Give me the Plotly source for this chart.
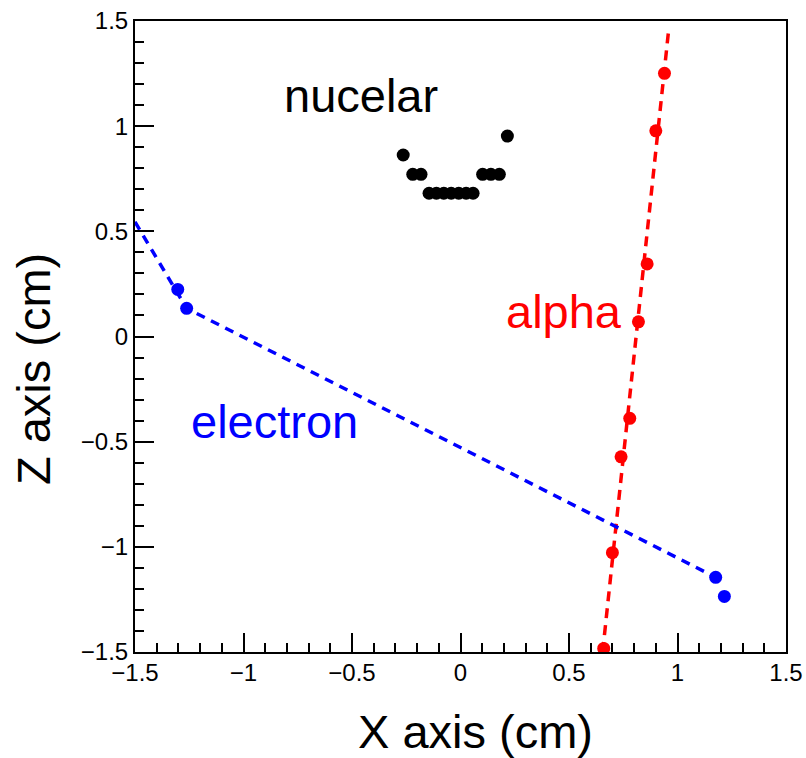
import plotly.graph_objects as go

# Hit positions (cm) for each track
alpha_x = [0.66, 0.70, 0.74, 0.78, 0.82, 0.86, 0.90, 0.94]
alpha_z = [-1.483, -1.028, -0.572, -0.389, 0.070, 0.345, 0.978, 1.251]

# Straight-line track drawn through the alpha hits
alpha_line_x = [0.655, 0.960]
alpha_line_z = [-1.500, 1.465]

electron_x = [-1.303, -1.262, 1.176, 1.216]
electron_z = [0.224, 0.134, -1.145, -1.236]

# Kinked electron trajectory
electron_line_x = [-1.500, -1.262, 1.176]
electron_line_z = [0.545, 0.134, -1.145]

nuclear_x = [-0.264, -0.220, -0.182, -0.145, -0.111, -0.077, -0.043, -0.008,
             0.026, 0.058, 0.102, 0.140, 0.179, 0.216]
nuclear_z = [0.863, 0.771, 0.771, 0.681, 0.681, 0.681, 0.681, 0.681,
             0.681, 0.681, 0.771, 0.771, 0.771, 0.953]

tick_vals = [-1.5, -1.0, -0.5, 0.0, 0.5, 1.0, 1.5]
tick_text = ["\u22121.5", "\u22121", "\u22120.5", "0", "0.5", "1", "1.5"]

FONT = "Liberation Sans, Arial, Helvetica, sans-serif"
RED = "#ff0000"
BLUE = "#0000ff"

fig = go.Figure()

fig.add_trace(go.Scatter(x=alpha_line_x, y=alpha_line_z, mode="lines",
                         line=dict(color=RED, width=3.5, dash="10px,7px"),
                         hoverinfo="skip"))
fig.add_trace(go.Scatter(x=electron_line_x, y=electron_line_z, mode="lines",
                         line=dict(color=BLUE, width=3.5, dash="9px,7px"),
                         hoverinfo="skip"))
fig.add_trace(go.Scatter(x=alpha_x, y=alpha_z, mode="markers",
                         marker=dict(color=RED, size=13)))
fig.add_trace(go.Scatter(x=electron_x, y=electron_z, mode="markers",
                         marker=dict(color=BLUE, size=13)))
fig.add_trace(go.Scatter(x=nuclear_x, y=nuclear_z, mode="markers",
                         marker=dict(color="black", size=13)))

# Track labels (baseline-anchored)
for label, lx, lz, col in [("nucelar", -0.817, 1.056, "black"),
                           ("alpha", 0.205, 0.031, RED),
                           ("electron", -1.247, -0.492, BLUE)]:
    fig.add_annotation(x=lx, y=lz, xref="x", yref="y", text=label,
                       showarrow=False, xanchor="left", yanchor="bottom",
                       xshift=-1, yshift=-10,
                       font=dict(family=FONT, size=47, color=col))

# Axis titles
fig.add_annotation(x=0.5223, y=-0.1263, xref="paper", yref="paper",
                   text="X axis (cm)", showarrow=False,
                   xanchor="center", yanchor="middle",
                   font=dict(family=FONT, size=47, color="black"))
fig.add_annotation(x=-0.155, y=0.4485, xref="paper", yref="paper",
                   text="Z axis (cm)", showarrow=False, textangle=-90,
                   xanchor="center", yanchor="middle",
                   font=dict(family=FONT, size=47, color="black"))

axis_common = dict(
    range=[-1.5, 1.5],
    tickmode="array",
    tickvals=tick_vals,
    ticktext=tick_text,
    ticks="inside",
    ticklen=19,
    tickwidth=1.5,
    tickcolor="black",
    tickfont=dict(family=FONT, size=24, color="black"),
    minor=dict(ticks="inside", ticklen=9, tickwidth=1.5, tickcolor="black",
               tickmode="linear", tick0=0, dtick=0.1, showgrid=False),
    showline=True,
    linecolor="black",
    linewidth=2,
    mirror=True,
    showgrid=False,
    zeroline=False,
    fixedrange=True,
    automargin=False,
)

fig.update_layout(
    width=806,
    height=758,
    margin=dict(l=135, r=20, t=21, b=106),
    paper_bgcolor="white",
    plot_bgcolor="white",
    showlegend=False,
    xaxis=dict(**axis_common, ticklabelstandoff=-2),
    yaxis=dict(**axis_common, ticklabelstandoff=0),
)

fig.write_html("out.html")
